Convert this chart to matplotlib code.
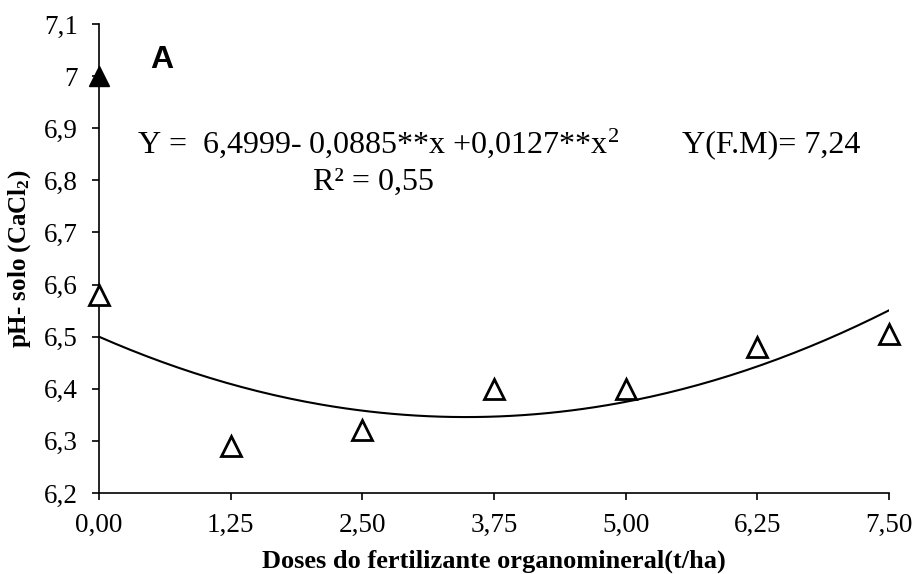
import numpy as np
import matplotlib
matplotlib.use("Agg")
import matplotlib.pyplot as plt

# observed means
doses = [0.0, 1.25, 2.50, 3.75, 5.00, 6.25, 7.50]
ph_values = [6.58, 6.29, 6.32, 6.40, 6.40, 6.48, 6.505]

# reference treatment (filled marker)
ref_dose = [0.0]
ref_ph = [7.0]

# quadratic fit as printed on the chart
fit_coefs = [6.4999, -0.0885, 0.0127]

x_ticks = [0.0, 1.25, 2.50, 3.75, 5.00, 6.25, 7.50]
x_ticklabels = ["0,00", "1,25", "2,50", "3,75", "5,00", "6,25", "7,50"]
y_ticks = [6.2, 6.3, 6.4, 6.5, 6.6, 6.7, 6.8, 6.9, 7.0, 7.1]
y_ticklabels = ["6,2", "6,3", "6,4", "6,5", "6,6", "6,7", "6,8", "6,9", "7", "7,1"]

serif = "Liberation Serif"
plt.rcParams["mathtext.fontset"] = "custom"
plt.rcParams["mathtext.rm"] = serif
plt.rcParams["mathtext.it"] = serif + ":italic"
plt.rcParams["mathtext.bf"] = serif + ":bold"

fig = plt.figure(figsize=(9.13, 5.74), dpi=100)
ax = fig.add_axes([99 / 913, 1 - 493 / 574, 790 / 913, 469 / 574])

xs = np.linspace(doses[0], doses[-1], 200)
ys = fit_coefs[0] + fit_coefs[1] * xs + fit_coefs[2] * xs ** 2
ax.plot(xs, ys, color="black", lw=1.5, zorder=2)

ax.plot(doses, ph_values, linestyle="none", marker="^", markersize=15,
        markerfacecolor="white", markeredgecolor="black", markeredgewidth=2.0,
        clip_on=False, zorder=3)
ax.plot(ref_dose, ref_ph, linestyle="none", marker="^", markersize=15,
        color="black", clip_on=False, zorder=3)

ax.set_xlim(0, 7.5)
ax.set_ylim(6.2, 7.1)
ax.set_xticks(x_ticks)
ax.set_xticklabels(x_ticklabels)
ax.set_yticks(y_ticks)
ax.set_yticklabels(y_ticklabels)

for side in ("top", "right"):
    ax.spines[side].set_visible(False)
for side in ("left", "bottom"):
    ax.spines[side].set_linewidth(1.2)

ax.tick_params(direction="out", length=5, width=1.2, labelsize=19.5)
ax.tick_params(axis="y", pad=10)
ax.tick_params(axis="x", pad=9)
for lab in ax.get_xticklabels() + ax.get_yticklabels():
    lab.set_fontfamily(serif)

ax.set_xlabel("Doses do fertilizante organomineral(t/ha)", fontfamily=serif,
              fontweight="bold", fontsize=19, labelpad=9)
ax.set_ylabel("pH- solo (CaCl$_\\mathbf{2}$)", fontfamily=serif,
              fontweight="bold", fontsize=18, labelpad=8)

ax.text(0.0646, 0.906, "A", transform=ax.transAxes, fontfamily="Liberation Sans",
        fontweight="bold", fontsize=23, va="baseline", ha="left")

eq_kw = dict(transform=ax.transAxes, fontfamily=serif, fontsize=23, va="baseline")
ax.text(0.048, 0.725, "Y =  6,4999- 0,0885**x +0,0127**x$^2$", ha="left", **eq_kw)
ax.text(0.348, 0.646, "R² = 0,55", ha="center", **eq_kw)
ax.text(0.738, 0.727, "Y(F.M)= 7,24", ha="left", **eq_kw)

fig.savefig("out.png", dpi=100)
